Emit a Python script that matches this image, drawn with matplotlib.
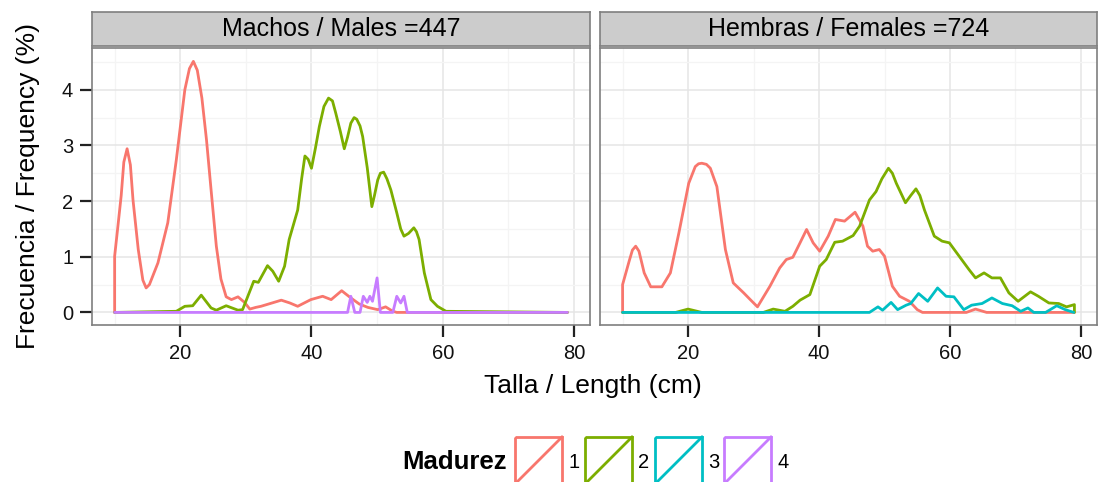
import matplotlib
matplotlib.use("Agg")
import matplotlib.pyplot as plt
from matplotlib.patches import Rectangle

plt.rcParams['font.family'] = ['Liberation Sans', 'DejaVu Sans']

colors = ["#F8766D", "#7CAE00", "#00BFC4", "#C77CFF"]
levels = ["1", "2", "3", "4"]
panel_titles = ["Machos / Males =447", "Hembras / Females =724"]

# Machos, madurez 1
m1_x = [10, 10, 10.5, 11.0, 11.4, 11.9, 12.4, 12.8, 13.6, 14.3, 14.8, 15.3, 16.6, 18.1, 19.4,
        20.7, 21.4, 22.0, 22.6, 23.3, 24.0, 24.7, 25.5, 26.2, 27.0, 27.8, 28.8, 29.8, 30.6,
        31.5, 32.3, 34.0, 35.4, 36.7, 37.9, 39.9, 41.7, 43.0, 44.6, 46.0, 47.3, 48.6, 50.1,
        51.3, 52.4, 53.0, 79]
m1_y = [0, 1.01, 1.55, 2.10, 2.70, 2.94, 2.65, 2.02, 1.13, 0.58, 0.44, 0.50, 0.89, 1.61, 2.74,
        4.0, 4.38, 4.51, 4.35, 3.85, 3.10, 2.2, 1.19, 0.6, 0.28, 0.23, 0.28, 0.18, 0.06,
        0.09, 0.11, 0.17, 0.22, 0.17, 0.11, 0.23, 0.29, 0.23, 0.39, 0.26, 0.15, 0.09, 0.05,
        0.10, 0.02, 0, 0]
# Machos, madurez 2
m2_x = [10, 19.4, 20.7, 21.9, 23.2, 24.7, 25.5, 27.0, 28.8, 29.5, 30.3, 31.2, 31.9, 33.3,
        34.1, 35.0, 35.9, 36.6, 37.9, 38.5, 39.0, 39.5, 40.0, 40.6, 41.2, 41.9, 42.6, 43.2,
        43.7, 44.4, 45.0, 45.5, 46.0, 46.5, 46.9, 47.4, 47.8, 48.5, 49.2, 49.6, 50.1, 50.5,
        51.0, 51.5, 52.1, 53.0, 53.6, 54.1, 54.8, 55.6, 56.0, 56.4, 57.2, 58.2, 59.2, 60.5, 79]
m2_y = [0, 0.02, 0.11, 0.12, 0.31, 0.08, 0.04, 0.12, 0.04, 0.05, 0.29, 0.56, 0.54, 0.84,
        0.74, 0.56, 0.83, 1.31, 1.84, 2.40, 2.81, 2.75, 2.59, 2.95, 3.34, 3.70, 3.85, 3.80,
        3.58, 3.25, 2.94, 3.15, 3.40, 3.50, 3.47, 3.35, 3.16, 2.60, 1.90, 2.10, 2.38, 2.50,
        2.52, 2.40, 2.20, 1.79, 1.50, 1.37, 1.42, 1.52, 1.45, 1.31, 0.71, 0.23, 0.11, 0.02, 0]
# Machos, madurez 4
m4_x = [10, 45.5, 46.0, 46.6, 47.4, 47.9, 48.5, 48.9, 49.3, 50.0, 50.5, 52.4, 53.0, 53.6,
        54.1, 54.6, 79]
m4_y = [0, 0, 0.29, 0, 0, 0.29, 0.18, 0.29, 0.20, 0.62, 0, 0, 0.29, 0.17, 0.29, 0, 0]

# Hembras, madurez 1
f1_x = [10, 10, 11.0, 11.5, 12.0, 12.5, 13.3, 14.3, 16.0, 17.3, 18.6, 20.1, 21.1, 21.6, 22.1,
        22.8, 23.4, 24.4, 25.7, 26.9, 28.5, 29.5, 30.6, 32.5, 34.0, 35.0, 36.0, 37.1, 38.1,
        39.1, 40.1, 41.4, 42.5, 43.9, 45.5, 46.7, 47.4, 48.2, 49.2, 50.0, 51.2, 52.3, 53.8,
        55.0, 55.8, 62.5, 63.9, 65.6, 79]
f1_y = [0, 0.50, 0.92, 1.12, 1.19, 1.10, 0.71, 0.46, 0.46, 0.71, 1.43, 2.32, 2.62, 2.67, 2.68,
        2.66, 2.59, 2.26, 1.13, 0.53, 0.35, 0.23, 0.10, 0.47, 0.80, 0.95, 0.99, 1.25, 1.49,
        1.25, 1.10, 1.37, 1.67, 1.64, 1.80, 1.55, 1.19, 1.10, 1.13, 1.01, 0.47, 0.29, 0.20,
        0.05, 0, 0, 0.06, 0, 0]
# Hembras, madurez 2
f2_x = [10, 18.1, 20.0, 22.1, 31.5, 33.0, 34.8, 36.0, 37.1, 38.6, 40.1, 41.1, 42.4, 43.6,
        45.2, 46.2, 47.7, 48.7, 49.6, 50.6, 51.2, 51.8, 53.2, 54.0, 54.8, 55.4, 56.1, 57.6,
        58.8, 59.9, 61.4, 62.9, 63.9, 65.2, 66.4, 67.7, 69.0, 70.4, 72.3, 73.5, 75.1, 76.6,
        77.8, 79.0, 79.0]
f2_y = [0, 0, 0.06, 0, 0, 0.06, 0.02, 0.11, 0.22, 0.32, 0.83, 0.95, 1.26, 1.28,
        1.38, 1.55, 2.02, 2.17, 2.40, 2.59, 2.50, 2.32, 1.97, 2.10, 2.22, 2.10, 1.84, 1.37,
        1.28, 1.25, 1.01, 0.77, 0.62, 0.71, 0.62, 0.62, 0.35, 0.20, 0.37, 0.29, 0.17, 0.16,
        0.10, 0.14, 0]
# Hembras, madurez 3
f3_x = [10, 47.7, 49.0, 49.7, 51.0, 52.0, 53.3, 54.0, 55.2, 56.6, 58.1, 59.4, 60.6, 62.1,
        63.3, 64.9, 66.4, 68.0, 69.5, 70.8, 71.9, 72.8, 74.6, 76.3, 77.6, 78.9]
f3_y = [0, 0, 0.10, 0.04, 0.18, 0.05, 0.13, 0.16, 0.34, 0.20, 0.44, 0.29, 0.28, 0.05,
        0.13, 0.16, 0.26, 0.16, 0.12, 0.02, 0.08, 0, 0, 0.12, 0.05, 0]

panels = [
    [(m1_x, m1_y, 0), (m2_x, m2_y, 1), (m4_x, m4_y, 3)],
    [(f1_x, f1_y, 0), (f2_x, f2_y, 1), (f3_x, f3_y, 2)],
]

W, H = 1098, 482
fig = plt.figure(figsize=(W / 100, H / 100), dpi=100)

def fbox(x0, y0, x1, y1):
    return [x0 / W, 1 - y1 / H, (x1 - x0) / W, (y1 - y0) / H]

panel_px = [(92, 48, 590, 325), (600, 48, 1097, 325)]
for i, (x0, y0, x1, y1) in enumerate(panel_px):
    ax = fig.add_axes(fbox(x0, y0, x1, y1))
    ax.set_xlim(6.55, 82.45)
    ax.set_ylim(-0.226, 4.75)
    ax.set_xticks([20, 40, 60, 80])
    ax.set_xticks([10, 30, 50, 70], minor=True)
    ax.set_yticks([0, 1, 2, 3, 4])
    ax.set_yticks([0.5, 1.5, 2.5, 3.5, 4.5], minor=True)
    ax.grid(which='major', color='#E5E5E5', lw=1.1)
    ax.grid(which='minor', color='#F4F4F4', lw=0.9)
    ax.set_axisbelow(True)
    for s in ax.spines.values():
        s.set_color('#7F7F7F')
        s.set_linewidth(1.2)
    ax.tick_params(which='minor', length=0)
    ax.tick_params(which='major', length=8.5, width=1.6, color='#222222',
                   labelsize=14.5, labelcolor='#111111', pad=5)
    if i == 1:
        ax.tick_params(axis='y', left=False, labelleft=False)
    for xs, ys, c in panels[i]:
        ax.plot(xs, ys, color=colors[c], lw=2.0, solid_joinstyle='round',
                solid_capstyle='round')

    sx = fig.add_axes(fbox(x0, 12, x1, 46))
    sx.set_facecolor('#CCCCCC')
    sx.set_xticks([])
    sx.set_yticks([])
    for s in sx.spines.values():
        s.set_color('#7F7F7F')
        s.set_linewidth(1.2)
    sx.text(0.5, 0.5, panel_titles[i], ha='center', va='center', fontsize=18,
            transform=sx.transAxes)

fig.text(593 / W, 1 - 386 / H, "Talla / Length (cm)", ha='center', va='center', fontsize=19)
fig.text(28 / W, 1 - 186 / H, "Frecuencia / Frequency (%)", ha='center', va='center',
         rotation=90, fontsize=19)

# legend
lg = fig.add_axes([0, 0, 1, 1])
lg.set_xlim(0, W)
lg.set_ylim(H, 0)
lg.axis('off')
lg.patch.set_alpha(0)
lg.text(402, 462, "Madurez", ha='left', va='center', fontsize=18.5, fontweight='bold')
key_x = [515, 585, 655, 724]
for kx, c, lab in zip(key_x, colors, levels):
    lg.add_patch(Rectangle((kx, 437), 47, 47, fill=False, edgecolor=c, lw=2.0,
                           clip_on=False))
    lg.plot([kx, kx + 47], [484, 437], color=c, lw=2.0, clip_on=False)
    lg.text(kx + 53, 462, lab, ha='left', va='center', fontsize=14.5)

fig.savefig("out.png", dpi=100)
